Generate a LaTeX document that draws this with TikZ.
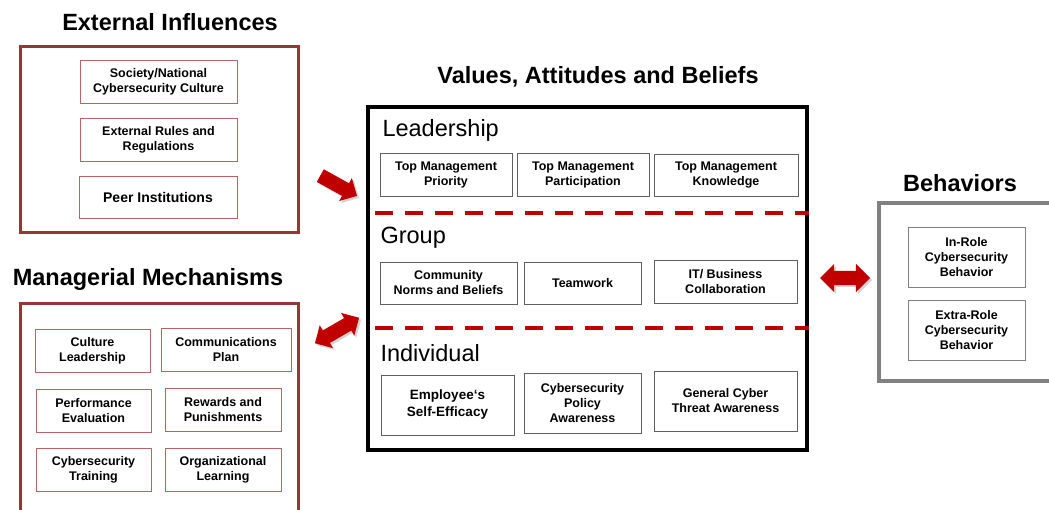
\documentclass[tikz,border=0pt]{standalone}
\usepackage{fontspec}
\setmainfont{Liberation Sans}
\usetikzlibrary{shapes.arrows,shadows,positioning}
\definecolor{boxred}{RGB}{149,55,53}
\definecolor{itemred}{RGB}{185,100,100}
\definecolor{arrowred}{RGB}{192,0,0}
\definecolor{itemgray}{RGB}{95,95,95}
\definecolor{behgray}{RGB}{128,128,128}
\tikzset{>=latex}

\begin{document}
\begin{tikzpicture}[x=1pt, y=-1pt,
		title/.style={font=\bfseries\fontsize{23.5}{27}\selectfont},
		level/.style={anchor=west, font=\fontsize{23.5}{27}\selectfont},
		item/.style={draw=#1, line width=1pt, fill=white, align=center, inner sep=0pt,
			font=\bfseries\fontsize{12.5}{15}\selectfont},
		outer/.style={draw=#1, line width=3pt, minimum width=0, inner sep=0pt},
		bigarrow/.style={fill=arrowred, inner ysep=7pt, inner xsep=0pt,
			drop shadow={opacity=0.35, shadow xshift=2pt, shadow yshift=-2pt}},
		divider/.style={draw=arrowred, line width=4pt, dash pattern=on 18pt off 12pt}]
		\clip (0,0) rectangle (1049,509);
		% external influences
		\node[title] (exttitle) at (170,22) {External Influences};
		\node[outer=boxred, minimum width=278, minimum height=186] (ext) at (159,139) {};
		\node[item=itemred, minimum width=157, minimum height=43] (soc) at (158.5,81.5) {Society/National\\Cybersecurity Culture};
		\node[item=itemred, minimum width=157, minimum height=43] (rules) at (158.5,139.5) {External Rules and\\Regulations};
		\node[item=itemred, minimum width=158, minimum height=42, font=\bfseries\fontsize{14}{16}\selectfont] (peer) at (158,197) {Peer Institutions};
		% managerial mechanisms
		\node[title] (mgttitle) at (148,279) {Managerial Mechanisms};
		\node[outer=boxred, minimum width=278, minimum height=217] (mgt) at (159,411.5) {};
		\node[item=itemred, minimum width=115, minimum height=43] (cul) at (92.5,350.5) {Culture\\Leadership};
		\node[item=itemred, minimum width=130, minimum height=43] (comm) at (226,349.5) {Communications\\Plan};
		\node[item=itemred, minimum width=115, minimum height=43] (perf) at (93.5,410.5) {Performance\\Evaluation};
		\node[item=itemred, minimum width=116, minimum height=43] (rew) at (223,409.5) {Rewards and\\Punishments};
		\node[item=itemred, minimum width=115, minimum height=43] (train) at (93.5,469.5) {Cybersecurity\\Training};
		\node[item=itemred, minimum width=116, minimum height=43] (learn) at (223,469.5) {Organizational\\Learning};
		% values, attitudes and beliefs
		\node[title] (vabtitle) at (598,77) {Values, Attitudes and Beliefs};
		\node[outer=black, line width=3.5pt, minimum width=439, minimum height=343] (vab) at (587.5,278.5) {};
		\coordinate (div1) at (375,213);
		\coordinate (div2) at (375,328);
		\draw[divider] (div1) -- (div1 -| vab.east);
		\draw[divider] (div2) -- (div2 -| vab.east);
		\node[level] (lead) at (379,130) {Leadership};
		\node[level] (grp) at (377,238) {Group};
		\node[level] (ind) at (377,353) {Individual};
		\node[item=itemgray, minimum width=132, minimum height=43] (tmpri) at (446,174.5) {Top Management\\Priority};
		\node[item=itemgray, minimum width=132, minimum height=43] (tmpar) at (583,174.5) {Top Management\\Participation};
		\node[item=itemgray, minimum width=144, minimum height=42] (tmkno) at (726,175) {Top Management\\Knowledge};
		\node[item=itemgray, minimum width=137, minimum height=42] (norms) at (448.5,283) {Community\\Norms and Beliefs};
		\node[item=itemgray, minimum width=117, minimum height=42] (team) at (582.5,283) {Teamwork};
		\node[item=itemgray, minimum width=143, minimum height=43] (itbus) at (725.5,281.5) {IT/ Business\\Collaboration};
		\node[item=itemgray, minimum width=133, minimum height=60, font=\bfseries\fontsize{13.5}{17}\selectfont] (selfeff) at (447.5,405) {Employee‘s\\Self-Efficacy};
		\node[item=itemgray, minimum width=117, minimum height=60] (policy) at (582.5,403) {Cybersecurity\\Policy\\Awareness};
		\node[item=itemgray, minimum width=143, minimum height=60] (threat) at (725.5,401) {General Cyber\\Threat Awareness};
		% behaviors
		\node[title] (behtitle) at (960,183) {Behaviors};
		\node[outer=behgray, line width=4pt, minimum width=191, minimum height=178] (beh) at (974.5,292) {};
		\node[item=behgray, minimum width=117, minimum height=60] (inrole) at (966.5,257) {In-Role\\Cybersecurity\\Behavior};
		\node[item=behgray, minimum width=117, minimum height=60] (extrarole) at (966.5,330) {Extra-Role\\Cybersecurity\\Behavior};
		% block arrows
		\node[bigarrow, single arrow, single arrow head extend=6pt, minimum height=42, rotate=-29] (arrext) at (335.5,184) {};
		\node[bigarrow, double arrow, double arrow head extend=6pt, minimum height=51, rotate=30] (arrmgt) at (337,330.5) {};
		\node[bigarrow, double arrow, double arrow head extend=7pt, minimum height=50] (arrbeh) at (845,278) {};
	\end{tikzpicture}
\end{document}
